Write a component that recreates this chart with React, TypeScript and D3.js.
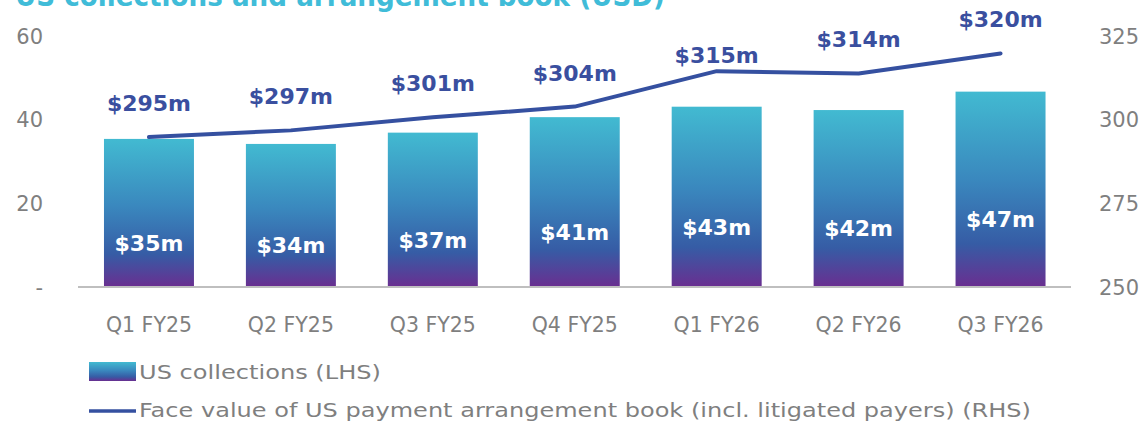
import React from "react";
import * as d3 from "d3";

const categories = ["Q1 FY25", "Q2 FY25", "Q3 FY25", "Q4 FY25", "Q1 FY26", "Q2 FY26", "Q3 FY26"];
const collections = [35.4, 34.2, 36.9, 40.6, 43.1, 42.3, 46.7];
const collectionLabels = ["$35m", "$34m", "$37m", "$41m", "$43m", "$42m", "$47m"];
const bookValues = [294.8, 296.8, 300.7, 303.9, 314.5, 313.8, 319.8];
const bookLabels = ["$295m", "$297m", "$301m", "$304m", "$315m", "$314m", "$320m"];
const bookLabelNudge = [0, 0, 0, 0, 18, 0, 0];
const leftTicks = [0, 20, 40, 60];
const leftTickLabels = ["-", "20", "40", "60"];
const rightTicks = [250, 275, 300, 325];

const W = 1144;
const H = 426;
const FONT = "'DejaVu Sans', sans-serif";
const GRAY = "#7f7f7f";
const LINE = "#3550a0";
const LABEL = "#3a4f9f";

export default function App() {
  const x = d3.scaleBand<string>().domain(categories).range([78, 1071.5]).paddingInner(0.366).paddingOuter(0.183);
  const yL = d3.scaleLinear().domain([0, 60]).range([287, 36]);
  const yR = d3.scaleLinear().domain([250, 325]).range([287, 36]);
  const cx = (c: string) => (x(c) as number) + x.bandwidth() / 2;
  const lineGen = d3
    .line<number>()
    .x((_, i) => cx(categories[i]))
    .y((d) => yR(d));

  return (
    <svg width={W} height={H} style={{ position: "absolute", left: 0, top: 0, background: "#fff" }} fontFamily={FONT}>
      <defs>
        <linearGradient id="barGrad" x1="0" y1="0" x2="0" y2="1">
          <stop offset="0%" stopColor="#42bad1" />
          <stop offset="45%" stopColor="#3a88be" />
          <stop offset="78%" stopColor="#365ca5" />
          <stop offset="100%" stopColor="#6a2e90" />
        </linearGradient>
      </defs>

      <text x={15} y={6} fontSize={28} fontWeight="bold" fill="#40bcd8" textLength={650} lengthAdjust="spacingAndGlyphs">
        US collections and arrangement book (USD)
      </text>

      {leftTicks.map((t, i) => (
        <text key={"l" + t} x={43} y={yL(t)} dy="0.36em" textAnchor="end" fontSize={21} fill={GRAY}>
          {leftTickLabels[i]}
        </text>
      ))}
      {rightTicks.map((t) => (
        <text key={"r" + t} x={1099} y={yR(t)} dy="0.36em" textAnchor="start" fontSize={21} fill={GRAY}>
          {t}
        </text>
      ))}

      {categories.map((c, i) => (
        <rect
          key={"b" + c}
          x={x(c)}
          y={yL(collections[i])}
          width={x.bandwidth()}
          height={yL(0) - yL(collections[i])}
          fill="url(#barGrad)"
        />
      ))}

      <line x1={78} x2={1071} y1={yL(0)} y2={yL(0)} stroke="#bfbfbf" strokeWidth={2} />

      {categories.map((c, i) => (
        <text
          key={"bl" + c}
          x={cx(c)}
          y={(yL(collections[i]) + yL(0)) / 2 + 30}
          dy="0.36em"
          textAnchor="middle"
          fontSize={22}
          fontWeight="bold"
          fill="#fff"
        >
          {collectionLabels[i]}
        </text>
      ))}

      <path d={lineGen(bookValues) || ""} fill="none" stroke={LINE} strokeWidth={4} strokeLinecap="round" strokeLinejoin="round" />

      {categories.map((c, i) => (
        <text
          key={"ll" + c}
          x={cx(c)}
          y={yR(bookValues[i]) - 34 + bookLabelNudge[i]}
          dy="0.36em"
          textAnchor="middle"
          fontSize={22}
          fontWeight="bold"
          fill={LABEL}
        >
          {bookLabels[i]}
        </text>
      ))}

      {categories.map((c) => (
        <text key={"c" + c} x={cx(c)} y={325} dy="0.36em" textAnchor="middle" fontSize={20.5} fill={GRAY}>
          {c}
        </text>
      ))}

      <rect x={89} y={362} width={47} height={19} fill="url(#barGrad)" />
      <text x={139} y={371.5} dy="0.36em" fontSize={20} fill={GRAY} textLength={242} lengthAdjust="spacingAndGlyphs">
        US collections (LHS)
      </text>
      <line x1={89} x2={136} y1={411} y2={411} stroke={LINE} strokeWidth={3.5} />
      <text x={139} y={410} dy="0.36em" fontSize={20} fill={GRAY} textLength={892} lengthAdjust="spacingAndGlyphs">
        Face value of US payment arrangement book (incl. litigated payers) (RHS)
      </text>
    </svg>
  );
}
